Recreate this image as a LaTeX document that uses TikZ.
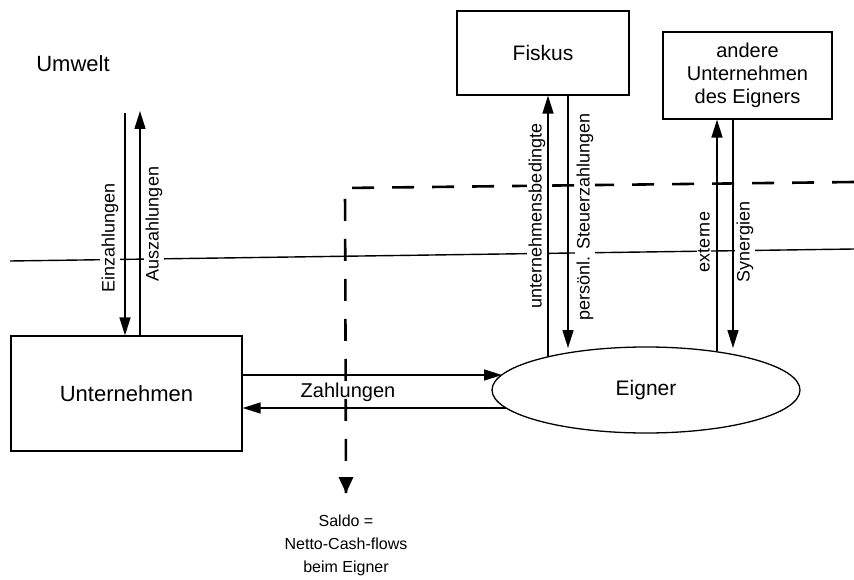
\documentclass[tikz,border=0pt]{standalone}
\usepackage{fontspec}
\setmainfont{Liberation Sans}
\usetikzlibrary{arrows.meta,shapes.geometric}
\begin{document}
\begin{tikzpicture}[x=1pt,y=-1pt,
  box/.style={draw, line width=1.2pt, rectangle, inner sep=0pt, align=center},
  arr/.style={line width=1.5pt, -{Triangle[length=18pt,width=11pt]}},
  thin line/.style={line width=1.4pt},
  flowlab/.style={fill=white, inner sep=1.5pt, rotate=90, font=\fontsize{18}{20}\selectfont},
  saldoline/.style={line width=2.6pt, dash pattern=on 22pt off 18pt},
]
\useasboundingbox (0,0) rectangle (854,580);

% boundary between company and environment
\coordinate (bl) at (10,261);
\coordinate (br) at (854,249);
\draw[thin line] (bl) -- (br);

% boxes
\node[font=\fontsize{22}{24}\selectfont] (umwelt) at (73,64) {Umwelt};
\node[box, minimum width=231pt, minimum height=115pt, font=\fontsize{22}{24}\selectfont] (unt) at (126.5,393.5) {Unternehmen};
\node[box, minimum width=172pt, minimum height=84pt, font=\fontsize{21}{24}\selectfont] (fiskus) at (543,53) {Fiskus};
\node[box, minimum width=169pt, minimum height=87pt, font=\fontsize{20}{23}\selectfont] (andere) at (747.5,75.5) {andere\\Unternehmen\\des Eigners};
\node[draw, ellipse, line width=1.3pt, minimum width=308pt, minimum height=86pt, inner sep=0pt, font=\fontsize{21}{24}\selectfont] (eigner) at (646,390) {Eigner};

% payments with the environment
\coordinate (ein) at (125,113);
\coordinate (aus) at (140,111);
\draw[arr] (ein) -- (ein |- unt.north);
\draw[arr] (aus |- unt.north) -- (aus);
\node[flowlab] (einlab) at (110,238) {Einzahlungen};
\node[flowlab] (auslab) at (154,224) {Auszahlungen};

% payments between company and owner
\coordinate (zo) at (502,375);
\coordinate (zu) at (506,408);
\draw[arr] (unt.east |- zo) -- (zo);
\draw[arr] (zu) -- (unt.east |- zu);
\node[font=\fontsize{20}{22}\selectfont] (zlab) at (348,392) {Zahlungen};

% taxes
\coordinate (fu) at (548,357);
\coordinate (fd) at (568,348);
\draw[arr] (fu) -- (fu |- fiskus.south);
\draw[arr] (fd |- fiskus.south) -- (fd);

% synergies
\coordinate (su) at (717,351);
\coordinate (sd) at (733,348);
\draw[arr] (su) -- (su |- andere.south);
\draw[arr] (sd |- andere.south) -- (sd);

% net cash flow boundary
\node[align=center, font=\fontsize{16}{23}\selectfont] (saldo) at (346,545) {Saldo =\\Netto-Cash-flows\\beim Eigner};
\coordinate (dend) at (854,182);
\coordinate (dcorner) at (345,188);
\coordinate (dtip) at (346,493);
\draw[saldoline] (dend) -- (dcorner) -- (dtip);
\fill (dtip) -- ++(-7.5,-16) -- ++(15,0) -- cycle;

\node[flowlab] (ublab) at (537,216) {unternehmensbedingte};
\node[flowlab] (stlab) at (585,217) {persönl. Steuerzahlungen};
\node[flowlab] (exlab) at (704,242) {externe};
\node[flowlab] (sylab) at (745,242) {Synergien};
\end{tikzpicture}
\end{document}
